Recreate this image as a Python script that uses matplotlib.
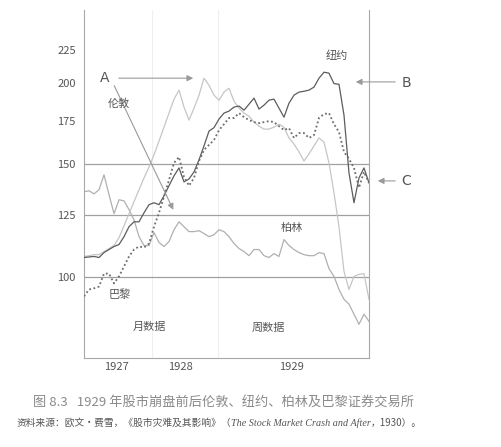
import numpy as np
import matplotlib.pyplot as plt
from matplotlib.ticker import NullLocator, NullFormatter

plt.rcParams['font.family'] = ['Noto Sans CJK SC', 'DejaVu Sans']

# time index: monthly data up to mid-1928, weekly data after that
periods = np.arange(58)

new_york = [107.4, 107.6, 107.8, 107.4, 109.3, 110.5, 111.7, 112.5, 115.7, 119.9,
            122.0, 122.0, 126.0, 129.7, 130.6, 129.7, 133.9, 138.8, 143.8, 147.9,
            140.7, 142.2, 145.8, 152.2, 160.0, 168.7, 170.8, 176.1, 179.9, 181.2,
            183.8, 184.5, 181.8, 185.7, 189.8, 182.5, 185.1, 188.4, 189.1, 183.1,
            177.3, 186.4, 191.8, 193.9, 194.5, 195.3, 197.4, 203.8, 208.2, 207.5,
            199.9, 199.4, 178.6, 145.3, 130.6, 142.7, 147.9, 140.2]

paris = [93.5, 95.8, 96.2, 96.8, 101.4, 101.4, 97.9, 100.4, 104.0, 107.8,
         110.5, 111.7, 111.3, 112.9, 119.9, 126.0, 133.5, 141.7, 150.6, 153.8,
         143.2, 138.8, 142.7, 151.6, 157.7, 160.6, 163.4, 169.3, 172.9, 176.8,
         176.8, 179.9, 177.3, 175.5, 174.2, 173.6, 174.2, 174.8, 174.2, 171.7,
         169.3, 170.5, 164.6, 167.5, 167.5, 164.6, 166.3, 176.8, 179.3, 179.9,
         172.9, 168.1, 156.6, 152.8, 147.9, 137.8, 145.8, 140.2]

berlin = [135.8, 136.3, 134.8, 136.8, 144.3, 134.4, 125.6, 132.0, 131.5, 127.4,
          122.9, 115.7, 112.1, 112.1, 117.4, 113.3, 111.7, 113.7, 118.6, 122.0,
          119.9, 117.8, 117.8, 118.2, 117.0, 115.7, 116.5, 118.6, 117.8, 115.7,
          112.9, 110.9, 109.7, 108.1, 110.5, 110.5, 108.1, 107.4, 108.9, 107.8,
          114.5, 112.1, 110.5, 109.3, 108.5, 108.1, 108.1, 109.3, 108.9, 103.2,
          100.4, 95.8, 92.5, 90.9, 87.7, 84.6, 87.7, 85.5]

london = [107.8, 108.1, 108.5, 108.5, 109.7, 110.9, 112.1, 115.3, 120.3, 125.6,
          131.1, 136.8, 142.7, 148.4, 155.0, 162.8, 171.1, 179.9, 189.1, 195.3,
          183.8, 175.5, 183.1, 191.8, 203.8, 198.7, 191.8, 188.4, 193.9, 196.6,
          187.7, 183.1, 179.9, 177.9, 174.2, 171.7, 169.9, 169.9, 171.1, 172.9,
          171.1, 164.6, 161.1, 156.6, 151.6, 155.5, 160.0, 164.6, 162.2, 150.6,
          135.3, 119.9, 102.2, 95.8, 100.4, 101.1, 101.4, 92.5]

year_labels = ['1927', '1928', '1929']
year_pos = [6.4, 19.2, 41.6]
y_ticks = [100, 125, 150, 175, 200, 225]
ref_levels = [100, 125, 150]
section_breaks = [13.6, 26.8]

fig = plt.figure(figsize=(5.01, 4.47), dpi=100)
ax = fig.add_axes([0.1677, 0.1991, 0.5688, 0.7785])

ax.set_yscale('log')
ax.set_ylim(75, 260)
ax.set_xlim(0, 57)

for lv in ref_levels:
    ax.axhline(lv, color='#a0a0a0', lw=0.9, zorder=1)
for xb in section_breaks:
    ax.axvline(xb, color='#efefef', lw=0.8, zorder=0)

ax.plot(periods, berlin, color='#b0b0b0', lw=0.9, zorder=2)
ax.plot(periods, london, color='#c6c6c6', lw=0.9, zorder=2)
ax.plot(periods, new_york, color='#5c5c5c', lw=0.9, zorder=3)
ax.plot(periods, paris, color='#6c6c6c', lw=1.3, linestyle=(0, (1, 1.4)), zorder=3)

ax.set_yticks(y_ticks)
ax.set_yticklabels([str(t) for t in y_ticks])
ax.yaxis.set_minor_locator(NullLocator())
ax.yaxis.set_minor_formatter(NullFormatter())
ax.set_xticks(year_pos)
ax.set_xticklabels(year_labels)
ax.tick_params(axis='both', length=0, labelsize=8, labelcolor='#555555')
ax.tick_params(axis='y', pad=6)
ax.tick_params(axis='x', pad=3)

ax.spines['top'].set_visible(False)
for s in ['left', 'right', 'bottom']:
    ax.spines[s].set_color('#a8a8a8')
    ax.spines[s].set_linewidth(0.8)

# arrows A, B, C
arrow = dict(arrowstyle='-|>', color='#9a9a9a', lw=0.8, mutation_scale=9)
ax.annotate('', xy=(22.4, 203.8), xytext=(6.4, 203.8), arrowprops=arrow)
ax.annotate('', xy=(18.1, 126.2), xytext=(5.8, 200.2), arrowprops=arrow)
ax.annotate('', xy=(53.8, 201.1), xytext=(62.8, 201.1), arrowprops=arrow,
            annotation_clip=False)
ax.annotate('', xy=(58.2, 141.2), xytext=(62.8, 141.2), arrowprops=arrow,
            annotation_clip=False)

letter = dict(fontsize=10, color='#555555', ha='center', va='center',
              family='DejaVu Sans', clip_on=False)
ax.text(4.1, 204, 'A', **letter)
ax.text(64.4, 200.6, 'B', **letter)
ax.text(64.5, 141.2, 'C', **letter)

lab = dict(fontsize=8, color='#555555', ha='center', va='center')
ax.text(50.6, 221, '纽约', **lab)
ax.text(7.0, 186.4, '伦敦', **lab)
ax.text(7.2, 94.1, '巴黎', **lab)
ax.text(41.6, 119.5, '柏林', **lab)
ax.text(13.0, 83.7, '月数据', **lab)
ax.text(36.8, 83.4, '周数据', **lab)

# caption and source
fig.text(0.066, 0.1007, '图 8.3   1929 年股市崩盘前后伦敦、纽约、柏林及巴黎证券交易所',
         fontsize=9.5, color='#8a8a8a', va='center')
t1 = fig.text(0.032, 0.0537, '资料来源：欧文·费雪，《股市灾难及其影响》（',
              fontsize=7, color='#555555', va='center')
t2 = plt.annotate('The Stock Market Crash and After', xy=(1, 0.5), xycoords=t1,
                  va='center', fontsize=7.3, color='#555555',
                  family='Liberation Serif', style='italic')
plt.annotate('，1930）。', xy=(1, 0.5), xycoords=t2, va='center',
             fontsize=7, color='#555555')

fig.savefig('out.png', dpi=100)
